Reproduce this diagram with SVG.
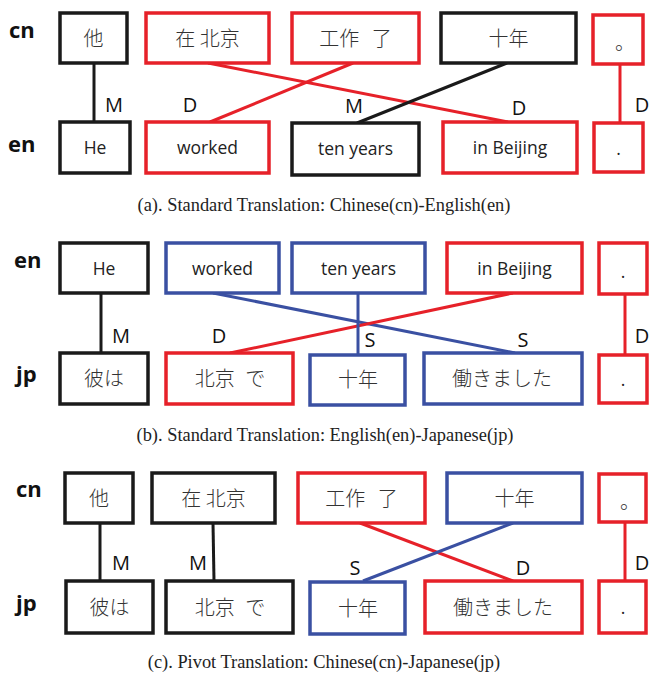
<svg xmlns="http://www.w3.org/2000/svg" width="652" height="673" viewBox="0 0 652 673">
<style>
.box{fill:#fff;stroke-width:3.5}
.k{stroke:#1a1a1a}.r{stroke:#e62129}.b{stroke:#3a50a2}
.ln{stroke-width:3;fill:none}
.lat{font-family:"Open Sans","Liberation Sans",sans-serif;font-size:17.5px;fill:#222;text-anchor:middle}
.cjk{font-family:"Noto Sans CJK SC","Noto Sans CJK JP",sans-serif;font-size:20px;font-weight:300;fill:#333;text-anchor:middle}
.cjp{font-family:"Noto Sans CJK JP","Noto Sans CJK SC",sans-serif;font-size:20px;font-weight:300;fill:#333;text-anchor:middle}
.lbl{font-family:"Open Sans","Liberation Sans",sans-serif;font-size:20px;fill:#111;text-anchor:middle}
.row{font-family:"Open Sans","Liberation Sans",sans-serif;font-size:22px;font-weight:bold;fill:#111}
.cap{font-family:"Liberation Serif","Times New Roman",serif;font-size:18.4px;fill:#222;text-anchor:middle}
</style>
<rect width="652" height="673" fill="#fff"/>

<!-- Panel (a) -->
<text class="row" x="9" y="38">cn</text>
<text class="row" x="8" y="152">en</text>
<g id="connectors-a">
<line class="ln k" x1="94" y1="63" x2="94" y2="122"/>
<line class="ln r" x1="208" y1="63" x2="508" y2="122"/>
<line class="ln r" x1="353" y1="63" x2="210" y2="122"/>
<line class="ln k" x1="507" y1="63" x2="357" y2="123"/>
<line class="ln r" x1="620" y1="64" x2="620" y2="123"/>
<text class="lbl" x="114" y="112">M</text>
<text class="lbl" x="190" y="112">D</text>
<text class="lbl" x="354" y="113">M</text>
<text class="lbl" x="519" y="115">D</text>
<text class="lbl" x="642" y="112">D</text>
</g>
<g id="a-cn1"><rect class="box k" x="60" y="13" width="67" height="50"/><text class="cjk" x="93.5" y="46">他</text></g>
<g id="a-cn2"><rect class="box r" x="146" y="13" width="123" height="50"/><text class="cjk" x="207.5" y="46">在 北京</text></g>
<g id="a-cn3"><rect class="box r" x="292" y="13" width="127" height="50"/><text class="cjk" x="355.5" y="46" xml:space="preserve" word-spacing="8">工作 了</text></g>
<g id="a-cn4"><rect class="box k" x="441" y="13" width="135" height="50"/><text class="cjk" x="508.5" y="46">十年</text></g>
<g id="a-cn5"><rect class="box r" x="593" y="15" width="50" height="49"/><text class="cjk" x="615" y="50" style="text-anchor:start">。</text></g>
<g id="a-en1"><rect class="box k" x="60" y="122" width="70" height="51"/><text class="lat" x="95" y="154">He</text></g>
<g id="a-en2"><rect class="box r" x="146" y="122" width="123" height="51"/><text class="lat" x="207.5" y="154">worked</text></g>
<g id="a-en3"><rect class="box k" x="292" y="123" width="127" height="52"/><text class="lat" x="355.5" y="155">ten years</text></g>
<g id="a-en4"><rect class="box r" x="443" y="122" width="134" height="51"/><text class="lat" x="510" y="154">in Beijing</text></g>
<g id="a-en5"><rect class="box r" x="594" y="123" width="49" height="49"/><text class="lat" x="618.5" y="155">.</text></g>
<text class="cap" x="324" y="211">(a). Standard Translation: Chinese(cn)-English(en)</text>

<!-- Panel (b) -->
<text class="row" x="14" y="268">en</text>
<text class="row" x="16" y="382">jp</text>
<g id="connectors-b">
<line class="ln k" x1="101" y1="293" x2="101" y2="353"/>
<line class="ln b" x1="213" y1="293" x2="515" y2="353"/>
<line class="ln r" x1="513" y1="293" x2="230" y2="353"/>
<line class="ln b" x1="358" y1="293" x2="358" y2="355"/>
<line class="ln r" x1="625" y1="294" x2="625" y2="355"/>
<text class="lbl" x="121" y="343">M</text>
<text class="lbl" x="219" y="343">D</text>
<text class="lbl" x="370" y="347">S</text>
<text class="lbl" x="523" y="347">S</text>
<text class="lbl" x="642" y="343">D</text>
</g>
<g id="b-en1"><rect class="box k" x="60" y="243" width="88" height="50"/><text class="lat" x="104" y="275">He</text></g>
<g id="b-en2"><rect class="box b" x="166" y="243" width="113" height="50"/><text class="lat" x="222.5" y="275">worked</text></g>
<g id="b-en3"><rect class="box b" x="292" y="243" width="133" height="50"/><text class="lat" x="358.5" y="275">ten years</text></g>
<g id="b-en4"><rect class="box r" x="447" y="243" width="135" height="50"/><text class="lat" x="514.5" y="275">in Beijing</text></g>
<g id="b-en5"><rect class="box r" x="599" y="243" width="48" height="51"/><text class="lat" x="623" y="278">.</text></g>
<g id="b-jp1"><rect class="box k" x="60" y="353" width="88" height="51"/><text class="cjp" x="104" y="386">彼は</text></g>
<g id="b-jp2"><rect class="box r" x="166" y="353" width="127" height="51"/><text class="cjp" x="230" y="386" xml:space="preserve" word-spacing="6">北京 で</text></g>
<g id="b-jp3"><rect class="box b" x="310" y="355" width="95" height="50"/><text class="cjp" x="358" y="387">十年</text></g>
<g id="b-jp4"><rect class="box b" x="424" y="353" width="158" height="51"/><text class="cjp" x="502" y="386">働きました</text></g>
<g id="b-jp5"><rect class="box r" x="599" y="355" width="48" height="48"/><text class="lat" x="623" y="386">.</text></g>
<text class="cap" x="325" y="441">(b). Standard Translation: English(en)-Japanese(jp)</text>

<!-- Panel (c) -->
<text class="row" x="16" y="497">cn</text>
<text class="row" x="16" y="611">jp</text>
<g id="connectors-c">
<line class="ln k" x1="100" y1="523" x2="100" y2="581"/>
<line class="ln k" x1="213" y1="523" x2="214" y2="581"/>
<line class="ln r" x1="360" y1="523" x2="513" y2="581"/>
<line class="ln b" x1="513" y1="523" x2="363" y2="581"/>
<line class="ln r" x1="625" y1="522" x2="625" y2="581"/>
<text class="lbl" x="121" y="570">M</text>
<text class="lbl" x="198" y="570">M</text>
<text class="lbl" x="355" y="575">S</text>
<text class="lbl" x="523" y="575">D</text>
<text class="lbl" x="642" y="570">D</text>
</g>
<g id="c-cn1"><rect class="box k" x="65" y="473" width="68" height="50"/><text class="cjk" x="99" y="506">他</text></g>
<g id="c-cn2"><rect class="box k" x="152" y="473" width="123" height="50"/><text class="cjk" x="213.5" y="506">在 北京</text></g>
<g id="c-cn3"><rect class="box r" x="298" y="473" width="127" height="50"/><text class="cjk" x="361.5" y="506" xml:space="preserve" word-spacing="8">工作 了</text></g>
<g id="c-cn4"><rect class="box b" x="447" y="473" width="135" height="50"/><text class="cjk" x="514.5" y="506">十年</text></g>
<g id="c-cn5"><rect class="box r" x="599" y="474" width="47" height="48"/><text class="cjk" x="620" y="509" style="text-anchor:start">。</text></g>
<g id="c-jp1"><rect class="box k" x="66" y="581" width="87" height="52"/><text class="cjp" x="109.5" y="615">彼は</text></g>
<g id="c-jp2"><rect class="box k" x="166" y="581" width="127" height="52"/><text class="cjp" x="230" y="615" xml:space="preserve" word-spacing="6">北京 で</text></g>
<g id="c-jp3"><rect class="box b" x="310" y="582" width="95" height="52"/><text class="cjp" x="358" y="616">十年</text></g>
<g id="c-jp4"><rect class="box r" x="425" y="581" width="157" height="52"/><text class="cjp" x="503" y="615">働きました</text></g>
<g id="c-jp5"><rect class="box r" x="599" y="581" width="47" height="52"/><text class="lat" x="623" y="614">.</text></g>
<text class="cap" x="324" y="668">(c). Pivot Translation: Chinese(cn)-Japanese(jp)</text>
</svg>
